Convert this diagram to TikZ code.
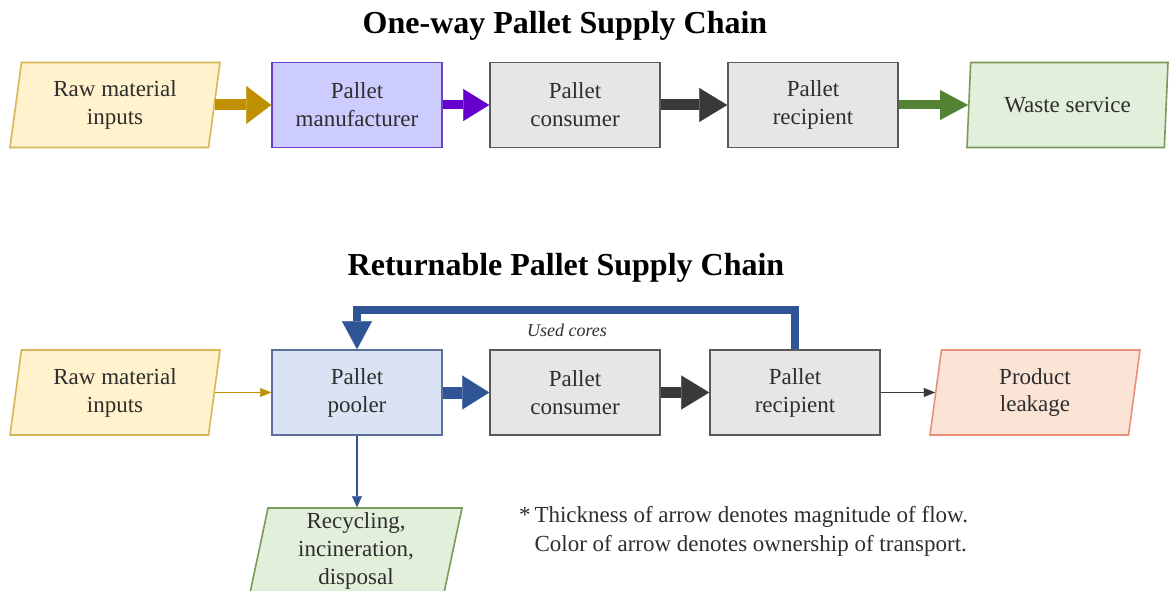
\documentclass[tikz,border=0pt]{standalone}
\usepackage{fontspec}
\setmainfont{LiberationSerif}[Extension=.ttf,UprightFont=*-Regular,BoldFont=*-Bold,ItalicFont=*-Italic,BoldItalicFont=*-BoldItalic]
\usetikzlibrary{arrows.meta,shapes.geometric}
\definecolor{yfill}{HTML}{FFF2CC}
\definecolor{ydraw}{HTML}{D6B656}
\definecolor{gold}{HTML}{BF9000}
\definecolor{pfill}{HTML}{CCCCFF}
\definecolor{pdraw}{HTML}{6B3FC9}
\definecolor{parrow}{HTML}{6600CC}
\definecolor{gfill}{HTML}{E7E6E6}
\definecolor{gdraw}{HTML}{595959}
\definecolor{karrow}{HTML}{3B3838}
\definecolor{grfill}{HTML}{E2EFDA}
\definecolor{grdraw}{HTML}{7A9A5A}
\definecolor{grarrow}{HTML}{548235}
\definecolor{bfill}{HTML}{DAE3F3}
\definecolor{bdraw}{HTML}{5B6F98}
\definecolor{barrow}{HTML}{2F5597}
\definecolor{rfill}{HTML}{FBE3D6}
\definecolor{rdraw}{HTML}{E8907A}
\definecolor{txt}{HTML}{2E2E2E}
\begin{document}
\begin{tikzpicture}[x=1pt,y=-1pt,
  boxtxt/.style={align=center, text=txt, font=\fontsize{23}{28}\selectfont, inner sep=0pt, line width=1.6pt},
  box/.style={boxtxt, rectangle, minimum width=170pt, minimum height=85pt},
  para/.style={boxtxt, trapezium, trapezium left angle=76.8, trapezium right angle=103.2,
    trapezium stretches body=true, minimum width=210pt, minimum height=85pt},
  title/.style={font=\fontsize{32}{36}\selectfont\bfseries, text=black},
  flow/.style args={#1/#2/#3/#4}{draw=#1, line width=#2,
    -{Triangle[width=#3,length=#4,line width=0.1pt]}},
]
\useasboundingbox (0,0) rectangle (1170,591);
\fill[white] (0,0) rectangle (1170,591);

% Titles
\node[title] (t1) at (565,26) {One-way Pallet Supply Chain};
\node[title] (t2) at (566,268) {Returnable Pallet Supply Chain};

% One-way chain
\node[para, fill=yfill, draw=ydraw] (raw1) at (115,105) {Raw material\\inputs};
\node[box, fill=pfill, draw=pdraw] (mfr) at (357,105) {Pallet\\manufacturer};
\node[box, fill=gfill, draw=gdraw] (cons1) at (575,105) {Pallet\\consumer};
\node[box, fill=gfill, draw=gdraw] (rec1) at (813,105) {Pallet\\recipient};
\node[para, fill=grfill, draw=grdraw, minimum width=201pt] (waste) at (1067.5,105) {Waste service};

\draw[flow=gold/11pt/38pt/25pt] (raw1.right side) -- (mfr.west);
\draw[flow=parrow/9pt/32pt/26pt] (mfr.east) -- (cons1.west);
\draw[flow=karrow/11pt/34pt/28pt] (cons1.east) -- (rec1.west);
\draw[flow=grarrow/9pt/30pt/28pt] (rec1.east) -- (waste.left side);

% Returnable chain
\node[para, fill=yfill, draw=ydraw] (raw2) at (115,392.5) {Raw material\\inputs};
\node[box, fill=bfill, draw=bdraw] (pool) at (357,392.5) {Pallet\\pooler};
\node[box, fill=gfill, draw=gdraw] (cons2) at (575,392.5) {Pallet\\consumer};
\node[box, fill=gfill, draw=gdraw] (rec2) at (795,392.5) {Pallet\\recipient};
\node[para, fill=rfill, draw=rdraw] (leak) at (1035,392.5) {Product\\leakage};
\node[para, fill=grfill, draw=grdraw, minimum width=212pt] (recy) at (356,550.5) {Recycling,\\incineration,\\disposal};

\draw[flow=gold/1.6pt/9pt/11pt] (raw2.right side) -- (pool.west);
\draw[flow=barrow/12pt/34pt/27pt] (pool.east) -- (cons2.west);
\draw[flow=karrow/11pt/34pt/28pt] (cons2.east) -- (rec2.west);
\draw[flow=karrow/1pt/9pt/11pt] (rec2.east) -- (leak.left side);
\draw[flow=barrow/1.6pt/10pt/11pt] (pool.south) -- (pool.south |- recy.top side);
\draw[flow=barrow/8pt/30pt/28pt, line join=miter] (rec2.north) -- ++(0,-39) -| (pool.north);

\node[font=\fontsize{18}{20}\selectfont\itshape, text=txt] (used) at (567,330) {Used cores};

% Note
\node[anchor=north west, align=left, text=txt, font=\fontsize{23}{29}\selectfont, inner sep=0pt] (note) at (519,506)
  {*\,Thickness of arrow denotes magnitude of flow.\\\phantom{*\,}Color of arrow denotes ownership of transport.};
\end{tikzpicture}
\end{document}
